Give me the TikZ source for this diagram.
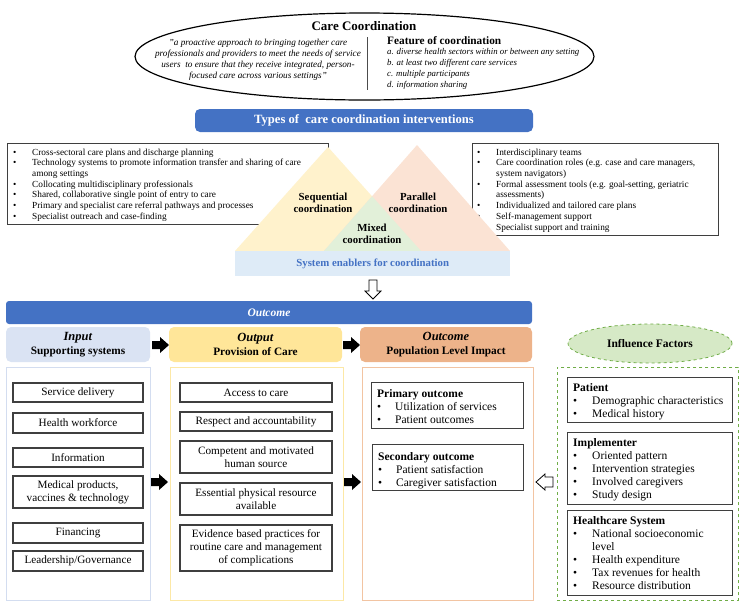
\documentclass[tikz,border=0pt]{standalone}
\usepackage{fontspec}
\setmainfont{Liberation Serif}
\usetikzlibrary{shapes.geometric}
\definecolor{bannerblue}{HTML}{4472C4}
\definecolor{boxgray}{HTML}{3F3F3F}
\definecolor{inputfill}{HTML}{DAE3F3}
\definecolor{inputline}{HTML}{D3DDF0}
\definecolor{outputfill}{HTML}{FFE699}
\definecolor{outputline}{HTML}{FCE8A6}
\definecolor{outcomefill}{HTML}{EDB38A}
\definecolor{outcomeline}{HTML}{F2C4A2}
\definecolor{inflgreen}{HTML}{70AD47}
\definecolor{inflfill}{HTML}{D6E9C6}
\definecolor{triyellow}{HTML}{FFF2CC}
\definecolor{tripeach}{HTML}{FBE3D4}
\definecolor{trigreen}{HTML}{E2F0D9}
\definecolor{bandblue}{HTML}{DEEBF7}
\newcommand{\myfs}[2]{\fontsize{#1}{#2}\selectfont}
\newcommand{\bul}[1]{\makebox[#1][l]{\textbullet}}
\begin{document}
\begin{tikzpicture}[x=1pt,y=-1pt,
  itembox/.style={draw=boxgray, line width=1.1pt, fill=white, align=center, inner sep=1pt, font=\myfs{11.2}{13}},
  framebox/.style={draw=boxgray, line width=1.1pt, fill=white, anchor=north west, inner sep=0pt},
  listtext/.style={anchor=north west, inner sep=0pt, font=\myfs{11.5}{13}},
  toplist/.style={anchor=north west, inner sep=0pt, font=\myfs{9.3}{10.7}},
  headbox/.style={rounded corners=5pt, align=center, font=\bfseries\myfs{11.3}{14}, minimum height=35pt, inner sep=0pt},
  container/.style={line width=1.2pt, fill=white, anchor=north west, inner sep=0pt, minimum height=233pt},
  pics/rarrow/.style={code={\fill[black] (0,-4) -- (8,-4) -- (8,-8) -- (17,0) -- (8,8) -- (8,4) -- (0,4) -- cycle;}},
]
\useasboundingbox (0,0) rectangle (743,611);

% ---------- Care coordination ellipse ----------
\node[ellipse, draw=black, line width=1.2pt, minimum width=459pt, minimum height=87pt, inner sep=0pt] (cc) at (364.5,56.5) {};
\node[font=\bfseries\myfs{13}{14}, inner sep=0pt] (cctitle) at (364,26) {Care Coordination};
\node[font=\itshape\myfs{9.2}{11}, align=center, inner sep=0pt] (quote) at (258,60) {"a proactive approach to bringing together care\\ professionals and providers to meet the needs of service\\ users\ \ to ensure that they receive integrated, person-\\ focused care across various settings"};
\coordinate (divtop) at (367,37);
\coordinate (divbot) at (367,90);
\draw[line width=0.6pt, black!70] (divtop) -- (divbot);
\node[font=\bfseries\myfs{11.3}{12}, anchor=west, inner sep=0pt] (feat) at (387,41) {Feature of coordination};
\node[font=\itshape\myfs{8.8}{11}, align=left, anchor=north west, inner sep=0pt] (featlist) at (387,48.5) {a. diverse health sectors within or between any setting\\ b. at least two different care services\\ c. multiple participants\\ d. information sharing};

% ---------- Types banner ----------
\node[fill=bannerblue, rounded corners=5pt, minimum width=338pt, minimum height=23pt, inner sep=0pt, text=white, font=\bfseries\myfs{12.6}{14}] (types) at (364,120.5) {Types of\ \ care coordination interventions};

% ---------- top list boxes ----------
\node[draw=boxgray, line width=0.8pt, fill=white, anchor=north west, minimum width=321pt, minimum height=81pt, inner sep=0pt] (tlbox) at (7,143) {};
\node[toplist] (tltext) at (13,147.5) {\begin{tabular}{@{}l@{}l@{}}
\bul{19pt} & Cross-sectoral care plans and discharge planning\\
\bul{19pt} & Technology systems to promote information transfer and sharing of care\\
 & among settings\\
\bul{19pt} & Collocating multidisciplinary professionals\\
\bul{19pt} & Shared, collaborative single point of entry to care\\
\bul{19pt} & Primary and specialist care referral pathways and processes\\
\bul{19pt} & Specialist outreach and case-finding
\end{tabular}};
\node[draw=boxgray, line width=0.8pt, fill=white, anchor=north west, minimum width=246pt, minimum height=92pt, inner sep=0pt] (trbox) at (472,143) {};
\node[toplist] (trtext) at (477,147.5) {\begin{tabular}{@{}l@{}l@{}}
\bul{19pt} & Interdisciplinary teams\\
\bul{19pt} & Care coordination roles (e.g. case and care managers,\\
 & system navigators)\\
\bul{19pt} & Formal assessment tools (e.g. goal-setting, geriatric\\
 & assessments)\\
\bul{19pt} & Individualized and tailored care plans\\
\bul{19pt} & Self-management support\\
\bul{19pt} & Specialist support and training
\end{tabular}};

% ---------- triangles ----------
\coordinate (yl) at (235,251);
\coordinate (ya) at (328,147);
\coordinate (yr) at (421,251);
\coordinate (pl) at (324,251);
\coordinate (pa) at (417,145);
\coordinate (pr) at (510,251);
\fill[triyellow] (yl) -- (ya) -- (yr) -- cycle;
\fill[tripeach] (pl) -- (pa) -- (pr) -- cycle;
\fill[trigreen] (pl) -- (intersection of ya--yr and pa--pl) -- (yr) -- cycle;
\node[font=\bfseries\myfs{10.8}{12}, align=center, inner sep=0pt] (seq) at (323,203) {Sequential\\coordination};
\node[font=\bfseries\myfs{10.8}{12}, align=center, inner sep=0pt] (par) at (418,203) {Parallel\\coordination};
\node[font=\bfseries\myfs{10.8}{12}, align=center, inner sep=0pt] (mix) at (372,234) {Mixed\\coordination};
\node[fill=bandblue, anchor=north west, minimum width=275pt, minimum height=25pt, inner sep=0pt] (band) at (235,251) {};
\node[text=bannerblue, font=\bfseries\myfs{10.8}{12}, inner sep=0pt] (bandtext) at (band.center) {System enablers for coordination};

% ---------- open down arrow ----------
\draw[fill=white, line width=0.8pt] (369,280) -- (377,280) -- (377,291) -- (381,291) -- (373,299) -- (365,291) -- (369,291) -- cycle;

% ---------- Outcome banner ----------
\node[fill=bannerblue, rounded corners=3pt, minimum width=526pt, minimum height=23pt, inner sep=0pt, text=white, font=\bfseries\itshape\myfs{11.5}{13}] (outban) at (269,312.5) {Outcome};

% ---------- header boxes ----------
\node[headbox, fill=inputfill, minimum width=144pt] (hin) at (78,344.5) {{\myfs{12.5}{14}\textit{Input}}\\Supporting systems};
\node[headbox, fill=outputfill, minimum width=173pt] (hout) at (255.5,344.5) {{\myfs{12.5}{14}\textit{Output}}\\Provision of Care};
\node[headbox, fill=outcomefill, minimum width=172pt] (hoc) at (446,344.5) {{\myfs{12.5}{14}\textit{Outcome}}\\Population Level Impact};
\pic at (152,345) {rarrow};
\pic at (343,345) {rarrow};

% ---------- containers ----------
\node[container, draw=inputline, minimum width=144pt] (cin) at (6,367) {};
\node[container, draw=outputline, minimum width=173pt] (cout) at (170,367) {};
\node[container, draw=outcomeline, minimum width=171pt] (coc) at (362,367) {};
\node[draw=inflgreen, dashed, line width=0.8pt, fill=white, anchor=north west, inner sep=0pt, minimum width=181pt, minimum height=233pt] (cinf) at (557,367) {};
\node[ellipse, draw=inflgreen, dashed, line width=0.8pt, fill=inflfill, minimum width=164pt, minimum height=39pt, inner sep=0pt, font=\bfseries\myfs{11.5}{13}] (infl) at (650,343.5) {Influence Factors};

% input items
\node[itembox, minimum width=130pt, minimum height=19pt] (i1) at (78,392.5) {Service delivery};
\node[itembox, minimum width=130pt, minimum height=20pt] (i2) at (78,423) {Health workforce};
\node[itembox, minimum width=130pt, minimum height=19pt] (i3) at (78,457.5) {Information};
\node[itembox, minimum width=130pt, minimum height=32pt] (i4) at (78,492) {Medical products,\\vaccines \& technology};
\node[itembox, minimum width=130pt, minimum height=20pt] (i5) at (78,533) {Financing};
\node[itembox, minimum width=130pt, minimum height=20pt] (i6) at (78,561) {Leadership/Governance};

% output items
\node[itembox, minimum width=152pt, minimum height=19pt] (o1) at (256,392.5) {Access to care};
\node[itembox, minimum width=152pt, minimum height=19pt] (o2) at (256,421.5) {Respect and accountability};
\node[itembox, minimum width=152pt, minimum height=32pt] (o3) at (256,457) {Competent and motivated\\human source};
\node[itembox, minimum width=152pt, minimum height=32pt] (o4) at (256,499) {Essential physical resource\\available};
\node[itembox, minimum width=152pt, minimum height=46pt] (o5) at (256,548) {Evidence based practices for\\routine care and management\\of complications};

\pic at (151,482) {rarrow};
\pic at (344,482) {rarrow};

% outcome boxes
\node[framebox, minimum width=152pt, minimum height=46pt] (prim) at (371,382) {};
\node[listtext] (primt) at (377,388) {\begin{tabular}{@{}l@{}l@{}}
\multicolumn{2}{@{}l@{}}{\textbf{Primary outcome}}\\
\bul{18pt} & Utilization of services\\
\bul{18pt} & Patient outcomes
\end{tabular}};
\node[framebox, minimum width=151pt, minimum height=46pt] (sec) at (372,444) {};
\node[listtext] (sect) at (378,451) {\begin{tabular}{@{}l@{}l@{}}
\multicolumn{2}{@{}l@{}}{\textbf{Secondary outcome}}\\
\bul{18pt} & Patient satisfaction\\
\bul{18pt} & Caregiver satisfaction
\end{tabular}};

% open left arrow
\draw[fill=white, line width=0.8pt] (553,477) -- (545,477) -- (545,474) -- (536,482) -- (545,490) -- (545,487) -- (553,487) -- cycle;

% influence boxes
\node[framebox, minimum width=165pt, minimum height=45pt] (pat) at (567,377) {};
\node[listtext] (patt) at (573,382) {\begin{tabular}{@{}l@{}l@{}}
\multicolumn{2}{@{}l@{}}{\textbf{Patient}}\\
\bul{19pt} & Demographic characteristics\\
\bul{19pt} & Medical history
\end{tabular}};
\node[framebox, minimum width=165pt, minimum height=72pt] (imp) at (567,432) {};
\node[listtext] (impt) at (573,437) {\begin{tabular}{@{}l@{}l@{}}
\multicolumn{2}{@{}l@{}}{\textbf{Implementer}}\\
\bul{19pt} & Oriented pattern\\
\bul{19pt} & Intervention strategies\\
\bul{19pt} & Involved caregivers\\
\bul{19pt} & Study design
\end{tabular}};
\node[framebox, minimum width=165pt, minimum height=85pt] (hcs) at (567,510) {};
\node[listtext] (hcst) at (573,515) {\begin{tabular}{@{}l@{}l@{}}
\multicolumn{2}{@{}l@{}}{\textbf{Healthcare System}}\\
\bul{19pt} & National socioeconomic\\
 & level\\
\bul{19pt} & Health expenditure\\
\bul{19pt} & Tax revenues for health\\
\bul{19pt} & Resource distribution
\end{tabular}};
\end{tikzpicture}
\end{document}
